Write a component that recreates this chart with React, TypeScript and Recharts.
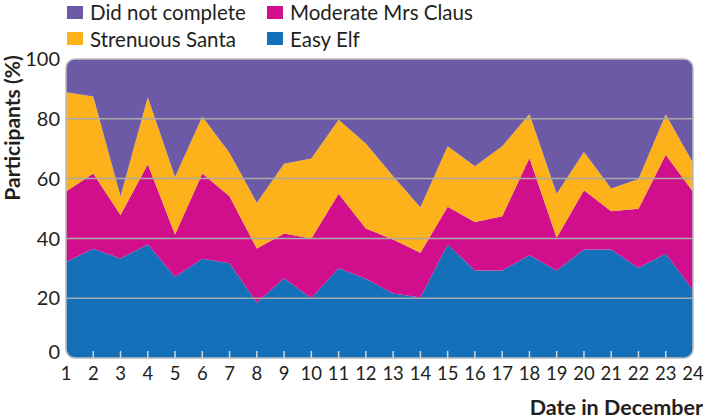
import React from "react";
import {
  ComposedChart,
  Area,
  Scatter,
  XAxis,
  YAxis,
  ReferenceLine,
  ReferenceArea,
} from "recharts";

const days = [
  1, 2, 3, 4, 5, 6, 7, 8, 9, 10, 11, 12, 13, 14, 15, 16, 17, 18, 19, 20, 21,
  22, 23, 24,
];
const easyElf = [
  32.1, 36.5, 33.3, 38.0, 27.1, 33.2, 31.7, 18.5, 26.7, 20.0, 30.0, 26.5, 21.6,
  20.2, 38.0, 29.3, 29.3, 34.4, 29.3, 36.3, 36.3, 30.1, 34.9, 22.7,
];
const moderateMrsClaus = [
  23.6, 25.2, 14.5, 26.8, 14.2, 28.5, 22.4, 18.1, 14.9, 20.0, 24.9, 16.8, 18.0,
  15.0, 12.6, 16.2, 18.1, 32.5, 10.9, 19.8, 12.8, 19.8, 33.1, 32.9,
];
const strenuousSanta = [
  33.2, 25.8, 6.3, 22.4, 19.2, 19.1, 14.5, 15.3, 23.4, 26.7, 24.8, 28.4, 21.2,
  15.2, 20.2, 18.6, 23.4, 14.7, 14.7, 12.8, 7.6, 10.0, 13.4, 9.7,
];
const didNotComplete = [
  11.1, 12.5, 45.9, 12.8, 39.5, 19.2, 31.4, 48.1, 35.0, 33.3, 20.3, 28.3, 39.2,
  49.6, 29.2, 35.9, 29.2, 18.4, 45.1, 31.1, 43.3, 40.1, 18.6, 34.7,
];
const yTicks = [0, 20, 40, 60, 80, 100];
const gridLines = [20, 40, 60, 80];

const series = [
  { key: "easy", name: "Easy Elf", color: "#1470B9" },
  { key: "moderate", name: "Moderate Mrs Claus", color: "#D10F8C" },
  { key: "strenuous", name: "Strenuous Santa", color: "#FDB11A" },
  { key: "dnc", name: "Did not complete", color: "#6C5AA6" },
];

// legend is laid out in two rows, like the original
const legendRows = [
  ["dnc", "moderate"],
  ["strenuous", "easy"],
];

const data = days.map((d, i) => ({
  day: d,
  easy: easyElf[i],
  moderate: moderateMrsClaus[i],
  strenuous: strenuousSanta[i],
  dnc: didNotComplete[i],
}));

// inner tick marks sit on the baseline of every day except the ends
const tickMarks = days.slice(1, -1).map((d) => ({ day: d, base: 0 }));

const FONT = "Lato, 'Open Sans', sans-serif";
const TEXT = "#231f20";

const XTick = (props: any) => {
  const { x, y, payload } = props;
  return (
    <text
      x={x}
      y={y + 22}
      textAnchor="middle"
      fontSize={18.5}
      fontFamily={FONT}
      fill={TEXT}
    >
      {payload.value}
    </text>
  );
};

const YTick = (props: any) => {
  const { x, y, payload } = props;
  const shift = payload.value === 0 ? -6 : 0;
  return (
    <text
      x={x - 6}
      y={y + shift}
      dy="0.36em"
      textAnchor="end"
      fontSize={20}
      fontFamily={FONT}
      fill={TEXT}
    >
      {payload.value}
    </text>
  );
};

const tickStub = (props: any) => {
  const { cx, cy } = props;
  return (
    <line x1={cx} x2={cx} y1={cy - 7} y2={cy} stroke="#d4d4d4" strokeWidth={1.5} />
  );
};

const Frame = (props: any) => {
  const { x, y, width: w, height: h } = props;
  const r = 9;
  return (
    <g>
      <path
        fill="#fff"
        d={`M${x},${y} H${x + r} A${r},${r} 0 0 0 ${x},${y + r} Z
            M${x + w},${y} H${x + w - r} A${r},${r} 0 0 1 ${x + w},${y + r} Z
            M${x},${y + h} V${y + h - r} A${r},${r} 0 0 0 ${x + r},${y + h} Z
            M${x + w},${y + h} H${x + w - r} A${r},${r} 0 0 0 ${x + w},${y + h - r} Z`}
      />
      <rect x={x} y={y} width={w} height={h} rx={r} fill="none" stroke="#bdbdbd" strokeWidth={1.5} />
    </g>
  );
};

export default function App() {
  return (
    <div
      style={{
        position: "absolute",
        left: 0,
        top: 0,
        width: 706,
        height: 420,
        background: "#fff",
        fontFamily: FONT,
        color: TEXT,
      }}
    >
      <ComposedChart
        width={706}
        height={420}
        data={data}
        margin={{ top: 59, right: 13, bottom: 32, left: 6 }}
      >
        <YAxis
          domain={[0, 100]}
          ticks={yTicks}
          width={60}
          axisLine={false}
          tickLine={false}
          tickSize={0}
          tickMargin={0}
          tick={<YTick />}
          interval={0}
        />
        <XAxis
          dataKey="day"
          type="number"
          domain={[1, 24]}
          ticks={days}
          interval={0}
          height={30}
          axisLine={false}
          tickLine={false}
          tickSize={0}
          tickMargin={0}
          tick={<XTick />}
        />
        {series.map((s) => (
          <Area
            key={s.key}
            type="linear"
            dataKey={s.key}
            name={s.name}
            stackId="1"
            fill={s.color}
            fillOpacity={1}
            stroke="none"
            isAnimationActive={false}
          />
        ))}
        {gridLines.map((v) => (
          <ReferenceLine key={v} y={v} stroke="#aaaaaa" strokeWidth={1.5} />
        ))}
        <Scatter
          data={tickMarks}
          dataKey="base"
          shape={tickStub}
          isAnimationActive={false}
        />
        <ReferenceArea x1={1} x2={24} y1={0} y2={100} shape={<Frame />} />
      </ComposedChart>

      {legendRows.map((row, ri) =>
        row.map((k, ci) => {
          const s = series.find((q) => q.key === k)!;
          return (
            <div
              key={k}
              style={{
                position: "absolute",
                left: ci === 0 ? 67 : 267,
                top: ri === 0 ? 12 : 38.5,
                transform: "translateY(-50%)",
                display: "flex",
                alignItems: "center",
                whiteSpace: "nowrap",
                fontSize: 20.5,
                lineHeight: "22px",
              }}
            >
              <span
                style={{
                  display: "inline-block",
                  width: 16,
                  height: 13,
                  background: s.color,
                  marginRight: 7,
                }}
              />
              {s.name}
            </div>
          );
        })
      )}

      <div
        style={{
          position: "absolute",
          left: 11,
          top: 127.5,
          transform: "translate(-50%, -50%) rotate(-90deg)",
          whiteSpace: "nowrap",
          fontWeight: 700,
          fontSize: 21,
          lineHeight: "17px",
        }}
      >
        Participants (%)
      </div>
      <div
        style={{
          position: "absolute",
          right: 3,
          top: 406.5,
          transform: "translateY(-50%)",
          whiteSpace: "nowrap",
          fontWeight: 700,
          fontSize: 21.5,
          lineHeight: "22px",
        }}
      >
        Date in December
      </div>
    </div>
  );
}
